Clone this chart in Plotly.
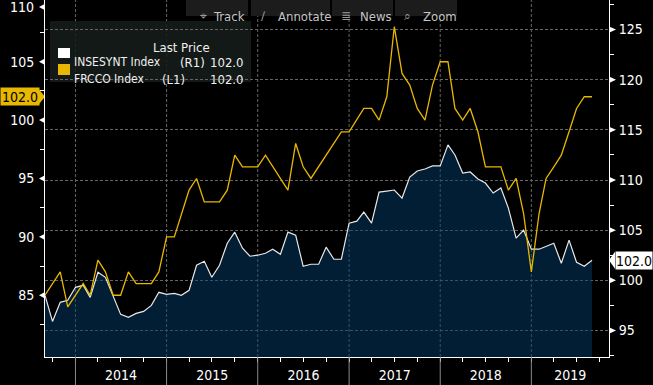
import plotly.graph_objects as go
import pandas as pd

# ---------------- data (monthly, Sep-2013 .. Sep-2019) ----------------
start_month = "2013-09-01"
frcco = [85, 86, 87, 84, 85, 86, 85, 88, 87, 85,
         85, 87, 86, 86, 86, 87, 90, 90, 92, 94,
         95, 93, 93, 93, 94, 97, 96, 96, 96, 97,
         96, 95, 94, 98, 96, 95, 96, 97, 98, 99,
         99, 100, 101, 101, 100, 102, 108, 104, 103, 101,
         100, 103, 105, 105, 101, 100, 101, 99, 96, 96,
         96, 94, 95, 92, 87, 92, 95, 96, 97, 99,
         101, 102, 102]
insesynt = [98.5, 95.9, 97.8, 98.0, 99.3, 99.5, 98.3, 100.8, 100.3, 98.4,
            96.6, 96.3, 96.7, 96.9, 97.5, 98.8, 98.6, 98.7, 98.5, 99.0,
            101.5, 101.9, 100.3, 101.5, 103.7, 104.8, 103.2, 102.4, 102.5, 102.7,
            103.1, 102.6, 104.8, 104.5, 101.4, 101.6, 101.6, 103.3, 102.1, 102.1,
            105.7, 105.9, 106.8, 105.7, 108.8, 108.9, 109.0, 108.2, 110.3, 110.9,
            111.1, 111.4, 111.4, 113.5, 112.5, 110.7, 110.8, 110.1, 109.7, 108.7,
            109.2, 107.2, 104.2, 105.0, 103.1, 103.1, 103.4, 103.7, 101.7, 104.0,
            101.8, 101.4, 102.0]
dates = pd.date_range(start_month, periods=len(frcco), freq="MS")
years = [2014, 2015, 2016, 2017, 2018, 2019]
left_ticks = [85, 90, 95, 100, 105, 110]
right_ticks = [95, 100, 105, 110, 115, 120, 125]
names = ["INSESYNT Index", "FRCCO Index"]
sides = ["(R1)", "(L1)"]
buttons = [("\u2316", "Track"), ("\u2215", "Annotate"), ("\u2263", "News"), ("\u2315", "Zoom")]

# ---------------- styling / layout constants ----------------
W, H = 653, 385
ML, MR, MT, MB = 45, 44, 0, 28
PW, PH = W - ML - MR, H - MT - MB
FONT = "Liberation Sans Narrow, DejaVu Sans Condensed, Roboto, sans-serif"
YEL = "#e8b800"
WHT = "#e8e8e8"
GRID = "#666666"
x_range = [pd.Timestamp("2013-09-01"), pd.Timestamp("2019-11-08")]
yl_range = [79.709, 110.287]
yr_range = [92.35, 127.95]
MIN_LABEL_PX = 7  # top-most labels are kept this far below the top edge


def fx(px):
    return (px - ML) / PW


def fy(py):
    return 1 - (py - MT) / PH


def vy(v, rng):
    return (v - rng[0]) / (rng[1] - rng[0])


def clamp_top(p):
    return min(p, fy(MIN_LABEL_PX))


fig = go.Figure()
fig.add_trace(go.Scatter(x=dates, y=insesynt, yaxis="y", mode="lines",
                         line=dict(color=WHT, width=1.2), fill="tozeroy",
                         fillcolor="rgba(3,60,106,0.5)", name=names[0]))
fig.add_trace(go.Scatter(x=dates, y=frcco, yaxis="y2", mode="lines",
                         line=dict(color=YEL, width=1.3), name=names[1]))

# year label positions: centre of each (visible) year
mids = []
for y in years:
    a = pd.Timestamp(f"{y}-01-01")
    b = min(pd.Timestamp(f"{y + 1}-01-01"), x_range[1])
    mids.append(a + (b - a) / 2)

# left labels that fit inside the figure are drawn by the axis, the top one is nudged down
left_axis_ticks = [t for t in left_ticks if vy(t, yl_range) <= fy(MIN_LABEL_PX)]
left_top_ticks = [t for t in left_ticks if t not in left_axis_ticks]

transparent = "rgba(0,0,0,0)"
fig.update_layout(
    width=W, height=H, margin=dict(l=ML, r=MR, t=MT, b=MB, autoexpand=False),
    paper_bgcolor="black", plot_bgcolor="black", showlegend=False,
    font=dict(family=FONT, color="white", size=14),
    xaxis=dict(type="date", range=x_range, tickvals=mids, ticktext=[str(y) for y in years],
               ticks="outside", ticklen=5, tickcolor=transparent, showgrid=False,
               showline=True, linecolor="white", linewidth=1, zeroline=False, automargin=False,
               tickfont=dict(size=14, color="white"),
               minor=dict(tickmode="linear", tick0="2013-10-01", dtick="M3", ticks="outside",
                          ticklen=4, tickcolor="white", showgrid=False)),
    yaxis=dict(side="right", range=yr_range, tickvals=right_ticks, ticks="outside", ticklen=6,
               tickcolor=transparent, showgrid=True, gridcolor=GRID, griddash="3px,2px",
               gridwidth=1, showline=True, linecolor="white", zeroline=False, automargin=False,
               tickfont=dict(size=14, color="white"), ticklabeloverflow="allow",
               minor=dict(tickmode="linear", tick0=92.5, dtick=5, ticks="outside", ticklen=4,
                          tickcolor="white", showgrid=False)),
    yaxis2=dict(overlaying="y", side="left", range=yl_range, tickvals=left_axis_ticks,
                ticks="outside", ticklen=7, tickcolor=transparent, showgrid=False,
                showline=True, automargin=False, linecolor="white", zeroline=False,
                tickfont=dict(size=14, color="white"), ticklabeloverflow="allow",
                minor=dict(tickmode="linear", tick0=82.5, dtick=5, ticks="outside", ticklen=4,
                           tickcolor="white", showgrid=False)),
)

LAY = "between"
shapes = []
# year boundaries: dashed in plot, solid separators in the label band
for y in years:
    d = pd.Timestamp(f"{y}-01-01")
    shapes.append(dict(type="line", xref="x", yref="paper", x0=d, x1=d, y0=0, y1=1,
                       line=dict(color=GRID, width=1, dash="3px,2px"), layer="below"))
    shapes.append(dict(type="line", xref="x", yref="paper", x0=d, x1=d, y0=-MB / PH, y1=0,
                       line=dict(color="#8a8a8a", width=1), layer="above"))

# axis triangles
dy = 3.2 / PH
for t in left_ticks:
    yc = clamp_top(vy(t, yl_range))
    shapes.append(dict(type="path", xref="paper", yref="paper",
                       path=f"M {fx(39)},{yc} L {fx(45)},{yc + dy} L {fx(45)},{yc - dy} Z",
                       fillcolor="white", line=dict(width=0), layer=LAY))
for t in right_ticks:
    yc = vy(t, yr_range)
    shapes.append(dict(type="path", xref="paper", yref="paper",
                       path=f"M {fx(609)},{yc + dy} L {fx(616)},{yc} L {fx(609)},{yc - dy} Z",
                       fillcolor="white", line=dict(width=0), layer=LAY))

# last value tags: pointed tips (shapes) + boxed labels (annotations)
h = 8.5 / PH
yc_l = vy(frcco[-1], yl_range)
shapes.append(dict(type="path", xref="paper", yref="paper",
                   path=f"M {fx(38)},{yc_l + h} L {fx(45)},{yc_l} L {fx(38)},{yc_l - h} Z",
                   fillcolor=YEL, line=dict(width=0), layer=LAY))
yc_r = vy(insesynt[-1], yr_range)
shapes.append(dict(type="path", xref="paper", yref="paper",
                   path=f"M {fx(609)},{yc_r} L {fx(615)},{yc_r + h} L {fx(615)},{yc_r - h} Z",
                   fillcolor="white", line=dict(width=0), layer=LAY))

# legend box
shapes.append(dict(type="rect", xref="paper", yref="paper", x0=fx(50), x1=fx(251),
                   y0=fy(82), y1=fy(21), fillcolor="rgba(22,28,26,0.88)",
                   line=dict(width=0), layer=LAY))
shapes.append(dict(type="rect", xref="paper", yref="paper", x0=fx(58), x1=fx(70),
                   y0=fy(58), y1=fy(48), fillcolor="white", line=dict(width=0), layer=LAY))
shapes.append(dict(type="rect", xref="paper", yref="paper", x0=fx(58), x1=fx(70),
                   y0=fy(75), y1=fy(64), fillcolor=YEL, line=dict(width=0), layer=LAY))

# toolbar buttons
btn_x = [(186, 248), (251, 330), (332, 393), (395, 457)]
for (a, b) in btn_x:
    shapes.append(dict(type="rect", xref="paper", yref="paper", x0=fx(a), x1=fx(b),
                       y0=fy(16), y1=fy(-2), fillcolor="#1c1c1c", line=dict(width=0),
                       layer=LAY))
fig.update_layout(shapes=shapes)

ann = []
for t in left_top_ticks:
    ann.append(dict(xref="paper", yref="paper", x=fx(36), y=clamp_top(vy(t, yl_range)),
                    xanchor="right", yanchor="middle", text=str(t), showarrow=False,
                    font=dict(size=14, color="white", family=FONT)))
ann.append(dict(xref="paper", yref="paper", x=fx(0), y=yc_l, xanchor="left", yanchor="middle",
                text=f"{frcco[-1]:.1f}", showarrow=False, width=38, height=17, borderpad=0,
                bgcolor=YEL, align="center",
                font=dict(size=14, color="black", family=FONT)))
ann.append(dict(xref="paper", yref="paper", x=fx(615), y=yc_r, xanchor="left", yanchor="middle",
                text=f"{insesynt[-1]:.1f}", showarrow=False, width=36, height=17, borderpad=0,
                bgcolor="white", align="center",
                font=dict(size=14, color="black", family=FONT)))
LF = dict(size=13, color="#f0f0f0", family=FONT)
LFN = dict(size=12, color="#f0f0f0", family=FONT)
ann.append(dict(xref="paper", yref="paper", x=fx(151), y=fy(38), text="Last Price",
                showarrow=False, font=LF))
rows = [(53, names[0], sides[0], 179, insesynt[-1]), (70, names[1], sides[1], 161, frcco[-1])]
for (yy, nm, sd, sx, val) in rows:
    ann.append(dict(xref="paper", yref="paper", x=fx(72), y=fy(yy), text=nm, xanchor="left",
                    showarrow=False, font=LFN))
    ann.append(dict(xref="paper", yref="paper", x=fx(sx - 1), y=fy(yy), text=sd, xanchor="left",
                    showarrow=False, font=LF))
    ann.append(dict(xref="paper", yref="paper", x=fx(245), y=fy(yy), text=f"{val:.1f}",
                    xanchor="right", showarrow=False, font=LF))
icon_x = [198, 263, 346, 407]
text_x = [211, 276, 358, 421]
BF = dict(size=13, color="#c4c4c4", family=FONT)
for (ic, tx), ix, txx in zip(buttons, icon_x, text_x):
    ann.append(dict(xref="paper", yref="paper", x=fx(ix), y=fy(7), text=ic, showarrow=False,
                    font=dict(size=12, color="#9a9a9a", family="DejaVu Sans")))
    ann.append(dict(xref="paper", yref="paper", x=fx(txx), y=fy(7), text=tx, xanchor="left",
                    showarrow=False, font=BF))
fig.update_layout(annotations=ann)

fig.write_html("out.html", config={"displayModeBar": False},
               post_script="document.body.style.margin='0';document.body.style.padding='0';"
                           "document.documentElement.style.overflow='hidden';")
